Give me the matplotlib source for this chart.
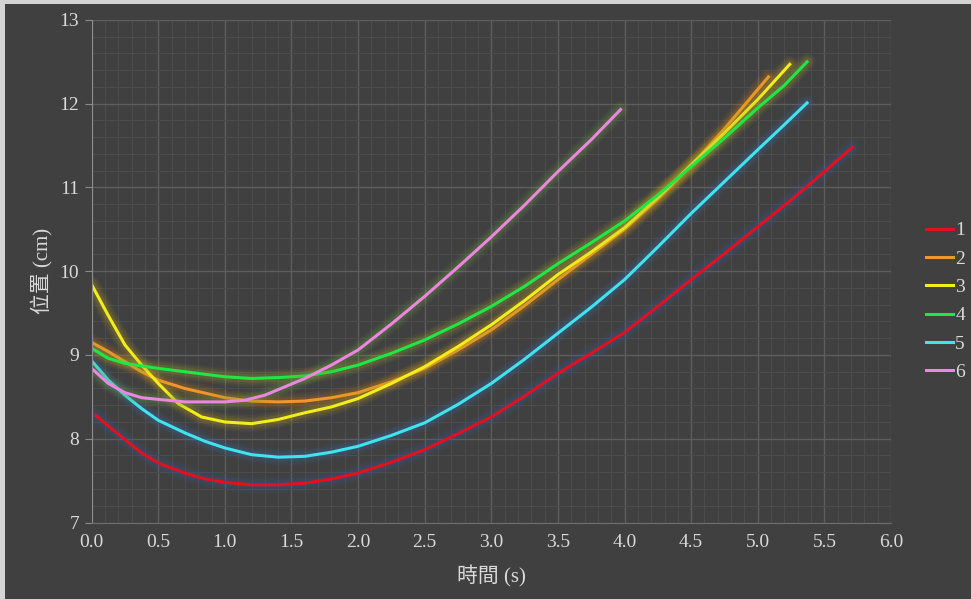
import numpy as np
import matplotlib.pyplot as plt
from matplotlib.patches import Rectangle
from matplotlib.ticker import MultipleLocator


#---------------------------------------------------------------------------------------------------
# Data: position vs. time for six runs
#---------------------------------------------------------------------------------------------------

t1 = [0.03, 0.15, 0.25, 0.375, 0.5, 0.7, 0.85, 1.0, 1.2, 1.4, 1.6, 1.8, 2.0, 2.25, 2.5, 2.75,
      3.0, 3.25, 3.5, 3.75, 4.0, 4.25, 4.5, 4.75, 5.0, 5.25, 5.5, 5.71]
y1 = [8.28, 8.12, 7.99, 7.83, 7.71, 7.59, 7.52, 7.48, 7.45, 7.45, 7.47, 7.52, 7.59, 7.72, 7.87,
      8.06, 8.26, 8.51, 8.78, 9.02, 9.27, 9.58, 9.90, 10.21, 10.53, 10.85, 11.19, 11.48]

t2 = [0.0, 0.125, 0.25, 0.375, 0.5, 0.7, 1.0, 1.2, 1.4, 1.6, 1.8, 2.0, 2.25, 2.5, 2.75, 3.0,
      3.25, 3.5, 3.75, 4.0, 4.25, 4.5, 4.75, 5.0, 5.08]
y2 = [9.15, 9.04, 8.92, 8.80, 8.70, 8.60, 8.49, 8.45, 8.44, 8.45, 8.49, 8.55, 8.68, 8.84, 9.06,
      9.30, 9.59, 9.90, 10.20, 10.50, 10.86, 11.26, 11.70, 12.17, 12.32]

t3 = [0.0, 0.125, 0.25, 0.375, 0.5, 0.65, 0.825, 1.0, 1.2, 1.4, 1.6, 1.8, 2.0, 2.25, 2.5, 2.75,
      3.0, 3.25, 3.5, 3.75, 4.0, 4.25, 4.5, 4.75, 5.0, 5.24]
y3 = [9.84, 9.47, 9.12, 8.88, 8.66, 8.42, 8.26, 8.20, 8.18, 8.23, 8.31, 8.38, 8.48, 8.66, 8.86,
      9.10, 9.36, 9.65, 9.96, 10.23, 10.52, 10.88, 11.27, 11.65, 12.05, 12.47]

t4 = [0.0, 0.125, 0.25, 0.5, 0.75, 1.0, 1.2, 1.4, 1.6, 1.8, 2.0, 2.25, 2.5, 2.75, 3.0, 3.25, 3.5,
      3.75, 4.0, 4.25, 4.5, 4.75, 5.0, 5.2, 5.37]
y4 = [9.08, 8.96, 8.90, 8.84, 8.79, 8.74, 8.72, 8.73, 8.75, 8.80, 8.88, 9.02, 9.18, 9.37, 9.58,
      9.82, 10.09, 10.34, 10.60, 10.91, 11.25, 11.59, 11.95, 12.22, 12.50]

t5 = [0.0, 0.125, 0.25, 0.375, 0.5, 0.7, 0.85, 1.0, 1.2, 1.4, 1.6, 1.8, 2.0, 2.25, 2.5, 2.75,
      3.0, 3.25, 3.5, 3.75, 4.0, 4.25, 4.5, 4.75, 5.0, 5.2, 5.37]
y5 = [8.93, 8.70, 8.52, 8.36, 8.22, 8.07, 7.97, 7.89, 7.81, 7.78, 7.79, 7.84, 7.91, 8.04, 8.19,
      8.41, 8.66, 8.95, 9.26, 9.57, 9.90, 10.29, 10.69, 11.07, 11.45, 11.75, 12.01]

t6 = [0.0, 0.125, 0.25, 0.375, 0.5, 0.7, 1.0, 1.15, 1.3, 1.45, 1.6, 1.8, 2.0, 2.25, 2.5, 2.75,
      3.0, 3.25, 3.5, 3.75, 3.97]
y6 = [8.84, 8.66, 8.55, 8.49, 8.47, 8.44, 8.44, 8.46, 8.52, 8.62, 8.72, 8.88, 9.06, 9.37, 9.70,
      10.05, 10.41, 10.79, 11.19, 11.57, 11.93]

labels = ['1', '2', '3', '4', '5', '6']
colors = ['#e3101f', '#f0962a', '#f2ee1c', '#1de845', '#3fe4ef', '#ec86de']
glows = ['#3a5c9c', '#c27a1c', '#c0a21c', '#a8a830', '#3a6aa8', '#6aa040']


#---------------------------------------------------------------------------------------------------
# Figure setup
#---------------------------------------------------------------------------------------------------

plt.rcParams['font.family'] = ['Liberation Serif', 'Noto Sans CJK TC']

fig = plt.figure(figsize=(9.71, 5.99), dpi=100, facecolor='#404040')

# light frame along the top and left edges
fig.patches.append(Rectangle((0, 0), 5 / 971, 1, transform=fig.transFigure,
                             facecolor='#d4d4d4', edgecolor='none'))
fig.patches.append(Rectangle((0, 1 - 4 / 599), 1, 4 / 599, transform=fig.transFigure,
                             facecolor='#d4d4d4', edgecolor='none'))

ax = fig.add_axes([0.0944, 0.1277, 0.8232, 0.839])
ax.set_facecolor('#404040')

# Lines with a soft glow drawn underneath

series = [(t1, y1), (t2, y2), (t3, y3), (t4, y4), (t5, y5), (t6, y6)]

for (t, y), c, g, lab in zip(series, colors, glows, labels):
    for w, a in [(12, 0.08), (9, 0.11), (6, 0.16)]:
        ax.plot(t, y, color=g, lw=w, alpha=a, solid_capstyle='round', solid_joinstyle='round')
    ax.plot(t, y, color=c, lw=2.2, label=lab, solid_joinstyle='round')

# Axes, grid and ticks

ax.set_xlim(0, 6)
ax.set_ylim(7, 13)
ax.xaxis.set_major_locator(MultipleLocator(0.5))
ax.xaxis.set_minor_locator(MultipleLocator(0.1))
ax.yaxis.set_major_locator(MultipleLocator(1))
ax.yaxis.set_minor_locator(MultipleLocator(0.2))
ax.xaxis.set_major_formatter(lambda v, p: f'{v:.1f}')

ax.grid(which='major', color='#5e5e5e', lw=1.0)
ax.grid(which='minor', color='#4c4c4c', lw=0.8)
ax.set_axisbelow(True)

for side in ['top', 'right']:
    ax.spines[side].set_visible(False)
ax.spines['left'].set_color('#8c8c8c')
ax.spines['bottom'].set_color('#6e6e6e')

ax.tick_params(axis='y', which='major', length=5, color='#8c8c8c', labelsize=14,
               labelcolor='#d9d9d9', pad=4)
ax.tick_params(axis='x', which='major', length=0, labelsize=14, labelcolor='#d9d9d9', pad=8)
ax.tick_params(which='minor', length=0)

ax.set_xlabel('時間 (s)', fontsize=15, color='#d9d9d9', labelpad=11)
ax.set_ylabel('位置 (cm)', fontsize=15, color='#d9d9d9', labelpad=5)

# Legend to the right of the plot

ax.legend(loc='center left', bbox_to_anchor=(1.0, 0.44), frameon=False, fontsize=14,
          labelcolor='#d9d9d9', handlelength=1.4, handletextpad=0.1, labelspacing=0.55,
          borderaxespad=1.4)

fig.savefig('out.png', dpi=100, facecolor=fig.get_facecolor())
